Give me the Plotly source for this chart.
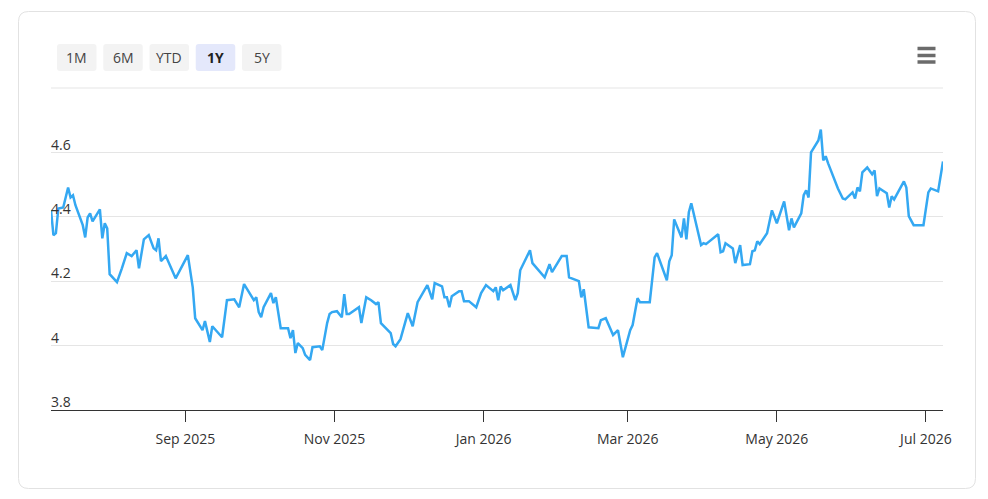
import plotly.graph_objects as go

# ---------------- data ----------------
dates = [
    "2025-07-08", "2025-07-09", "2025-07-10", "2025-07-11", "2025-07-13", "2025-07-15",
    "2025-07-16", "2025-07-17", "2025-07-18", "2025-07-20", "2025-07-21", "2025-07-22",
    "2025-07-23", "2025-07-24", "2025-07-25", "2025-07-28", "2025-07-29", "2025-07-30",
    "2025-07-31", "2025-08-01", "2025-08-04", "2025-08-06", "2025-08-08", "2025-08-10",
    "2025-08-12", "2025-08-13", "2025-08-15", "2025-08-17", "2025-08-19", "2025-08-20",
    "2025-08-21", "2025-08-22", "2025-08-24", "2025-08-28", "2025-09-02", "2025-09-04",
    "2025-09-05", "2025-09-08", "2025-09-09", "2025-09-11", "2025-09-12", "2025-09-16",
    "2025-09-17", "2025-09-18", "2025-09-21", "2025-09-23", "2025-09-25", "2025-09-29",
    "2025-09-30", "2025-10-01", "2025-10-02", "2025-10-03", "2025-10-06", "2025-10-07",
    "2025-10-08", "2025-10-10", "2025-10-13", "2025-10-14", "2025-10-15", "2025-10-16",
    "2025-10-17", "2025-10-19", "2025-10-20", "2025-10-22", "2025-10-23", "2025-10-26",
    "2025-10-27", "2025-10-29", "2025-10-30", "2025-10-31", "2025-11-02", "2025-11-04",
    "2025-11-05", "2025-11-06", "2025-11-07", "2025-11-11", "2025-11-12", "2025-11-14",
    "2025-11-16", "2025-11-18", "2025-11-19", "2025-11-20", "2025-11-24", "2025-11-25",
    "2025-11-26", "2025-11-28", "2025-12-01", "2025-12-03", "2025-12-05", "2025-12-08",
    "2025-12-09", "2025-12-11", "2025-12-12", "2025-12-15", "2025-12-16", "2025-12-17",
    "2025-12-18", "2025-12-19", "2025-12-22", "2025-12-23", "2025-12-24", "2025-12-26",
    "2025-12-29", "2025-12-31", "2026-01-02", "2026-01-05", "2026-01-06", "2026-01-07",
    "2026-01-08", "2026-01-09", "2026-01-12", "2026-01-14", "2026-01-15", "2026-01-16",
    "2026-01-20", "2026-01-21", "2026-01-26", "2026-01-28", "2026-01-29", "2026-02-02",
    "2026-02-04", "2026-02-05", "2026-02-09", "2026-02-10", "2026-02-11", "2026-02-13",
    "2026-02-17", "2026-02-18", "2026-02-20", "2026-02-23", "2026-02-25", "2026-02-27",
    "2026-03-02", "2026-03-03", "2026-03-05", "2026-03-06", "2026-03-10", "2026-03-12",
    "2026-03-13", "2026-03-17", "2026-03-18", "2026-03-19", "2026-03-20", "2026-03-23",
    "2026-03-24", "2026-03-25", "2026-03-26", "2026-03-27", "2026-03-31", "2026-04-01",
    "2026-04-02", "2026-04-07", "2026-04-08", "2026-04-09", "2026-04-10", "2026-04-13",
    "2026-04-14", "2026-04-16", "2026-04-17", "2026-04-20", "2026-04-21", "2026-04-22",
    "2026-04-23", "2026-04-24", "2026-04-27", "2026-04-29", "2026-05-01", "2026-05-04",
    "2026-05-06", "2026-05-07", "2026-05-08", "2026-05-11", "2026-05-12", "2026-05-13",
    "2026-05-14", "2026-05-15", "2026-05-17", "2026-05-18", "2026-05-19", "2026-05-20",
    "2026-05-21", "2026-05-22", "2026-05-26", "2026-05-28", "2026-05-29", "2026-06-01",
    "2026-06-02", "2026-06-03", "2026-06-04", "2026-06-05", "2026-06-07", "2026-06-09",
    "2026-06-10", "2026-06-11", "2026-06-12", "2026-06-15", "2026-06-16", "2026-06-17",
    "2026-06-18", "2026-06-22", "2026-06-23", "2026-06-24", "2026-06-26", "2026-06-30",
    "2026-07-02", "2026-07-03", "2026-07-06", "2026-07-07", "2026-07-08",
]
values = [
    4.420, 4.343, 4.349, 4.426, 4.429, 4.491,
    4.460, 4.467, 4.436, 4.395, 4.374, 4.336,
    4.398, 4.411, 4.386, 4.423, 4.333, 4.380,
    4.364, 4.222, 4.197, 4.240, 4.287, 4.278,
    4.296, 4.240, 4.330, 4.343, 4.302, 4.296,
    4.333, 4.262, 4.278, 4.209, 4.281, 4.181,
    4.085, 4.048, 4.076, 4.011, 4.060, 4.026,
    4.088, 4.141, 4.144, 4.119, 4.191, 4.141,
    4.150, 4.104, 4.088, 4.119, 4.163, 4.132,
    4.150, 4.054, 4.054, 4.023, 4.048, 3.977,
    4.008, 3.992, 3.971, 3.955, 3.995, 3.998,
    3.986, 4.070, 4.098, 4.104, 4.107, 4.088,
    4.160, 4.098, 4.098, 4.119, 4.070, 4.150,
    4.141, 4.129, 4.135, 4.070, 4.039, 4.005,
    3.998, 4.020, 4.101, 4.060, 4.135, 4.178,
    4.188, 4.144, 4.194, 4.184, 4.150, 4.150,
    4.119, 4.153, 4.169, 4.169, 4.138, 4.138,
    4.119, 4.163, 4.188, 4.169, 4.181, 4.141,
    4.184, 4.172, 4.188, 4.141, 4.163, 4.234,
    4.296, 4.256, 4.212, 4.253, 4.228, 4.278,
    4.278, 4.212, 4.200, 4.150, 4.175, 4.057,
    4.054, 4.079, 4.085, 4.033, 4.048, 3.964,
    4.048, 4.064, 4.147, 4.135, 4.135, 4.274,
    4.287, 4.203, 4.262, 4.281, 4.392, 4.336,
    4.395, 4.330, 4.414, 4.442, 4.312, 4.318,
    4.315, 4.346, 4.290, 4.293, 4.318, 4.302,
    4.256, 4.312, 4.250, 4.253, 4.293, 4.296,
    4.324, 4.315, 4.349, 4.420, 4.380, 4.448,
    4.358, 4.395, 4.367, 4.411, 4.467, 4.482,
    4.460, 4.600, 4.622, 4.637, 4.671, 4.575,
    4.588, 4.566, 4.488, 4.457, 4.454, 4.476,
    4.457, 4.491, 4.479, 4.538, 4.553, 4.532,
    4.544, 4.464, 4.488, 4.473, 4.429, 4.464,
    4.454, 4.510, 4.491, 4.402, 4.374, 4.374,
    4.476, 4.488, 4.479, 4.532, 4.572,
]

y_tick_vals = [3.8, 4.0, 4.2, 4.4, 4.6, 4.8]
y_tick_text = ["3.8", "4", "4.2", "4.4", "4.6", ""]
x_tick_vals = ["2025-09-01", "2025-11-01", "2026-01-01", "2026-03-01", "2026-05-01", "2026-07-01"]
x_tick_text = ["Sep 2025", "Nov 2025", "Jan 2026", "Mar 2026", "May 2026", "Jul 2026"]
range_buttons = ["1M", "6M", "YTD", "1Y", "5Y"]
active_button = "1Y"

# ---------------- layout helpers ----------------
W, H = 988, 499
L, R, T, B = 51, 45, 88, 89
PW, PH = W - L - R, H - T - B
FONT = "Open Sans, Noto Sans, sans-serif"


def px(x):
    return (x - L) / PW


def py(y):
    return (H - B - y) / PH


def rounded_rect(x0, y0, x1, y1, r):
    return (
        f"M {px(x0 + r)},{py(y0)} L {px(x1 - r)},{py(y0)} "
        f"Q {px(x1)},{py(y0)} {px(x1)},{py(y0 + r)} "
        f"L {px(x1)},{py(y1 - r)} Q {px(x1)},{py(y1)} {px(x1 - r)},{py(y1)} "
        f"L {px(x0 + r)},{py(y1)} Q {px(x0)},{py(y1)} {px(x0)},{py(y1 - r)} "
        f"L {px(x0)},{py(y0 + r)} Q {px(x0)},{py(y0)} {px(x0 + r)},{py(y0)} Z"
    )


fig = go.Figure()
fig.add_trace(go.Scatter(
    x=dates, y=values, mode="lines",
    line=dict(color="#34a8f2", width=2.5),
    hoverinfo="x+y", showlegend=False,
))

shapes = []
annotations = []

# card border
shapes.append(dict(type="path", xref="paper", yref="paper",
                   path=rounded_rect(18.5, 11.5, 975.5, 488.5, 10),
                   line=dict(color="#e2e2e2", width=1), fillcolor="rgba(0,0,0,0)",
                   layer="below"))

# top grid line (upper edge of the plot area)
shapes.append(dict(type="line", xref="paper", yref="paper",
                   x0=0, x1=1, y0=1, y1=1,
                   line=dict(color="#e5e5e5", width=1), layer="below"))

# range buttons
for i, lab in enumerate(range_buttons):
    x0 = 57 + i * 46.25
    x1 = x0 + 39.5
    active = lab == active_button
    shapes.append(dict(type="path", xref="paper", yref="paper",
                       path=rounded_rect(x0, 44, x1, 71, 3),
                       line=dict(width=0),
                       fillcolor="#e4e8fb" if active else "#f3f3f3"))
    annotations.append(dict(xref="paper", yref="paper", x=px((x0 + x1) / 2), y=py(57.5),
                            text=f"<b>{lab}</b>" if active else lab, showarrow=False,
                            xanchor="center", yanchor="middle",
                            font=dict(family=FONT, size=14, color="#222" if active else "#444")))

# hamburger menu icon
for yy in (48.5, 55.5, 62):
    shapes.append(dict(type="line", xref="paper", yref="paper",
                       x0=px(917.5), x1=px(935.5), y0=py(yy), y1=py(yy),
                       line=dict(color="#6b6b6b", width=3.5)))

fig.update_layout(
    width=W, height=H,
    margin=dict(l=L, r=R, t=T, b=B, pad=0),
    paper_bgcolor="white", plot_bgcolor="white",
    font=dict(family=FONT, size=14, color="#333"),
    shapes=shapes, annotations=annotations,
    xaxis=dict(
        type="date", range=[dates[0], dates[-1]],
        tickvals=x_tick_vals, ticktext=x_tick_text,
        showgrid=False, showline=True, linecolor="#333", linewidth=1,
        ticks="outside", ticklen=11, tickcolor="#333", tickwidth=1,
        ticklabelstandoff=5,
        tickfont=dict(family=FONT, size=14, color="#333"),
        zeroline=False, fixedrange=True,
    ),
    yaxis=dict(
        range=[3.8, 4.8], tickvals=y_tick_vals, ticktext=y_tick_text,
        showgrid=True, gridcolor="#e5e5e5", gridwidth=1,
        showline=False, zeroline=False, ticks="",
        ticklabelposition="inside top", ticklabeloverflow="allow",
        ticklabelshift=2, ticklabelstandoff=-3,
        tickfont=dict(family=FONT, size=14, color="#333"),
        fixedrange=True,
    ),
)

fig.write_html("out.html")
